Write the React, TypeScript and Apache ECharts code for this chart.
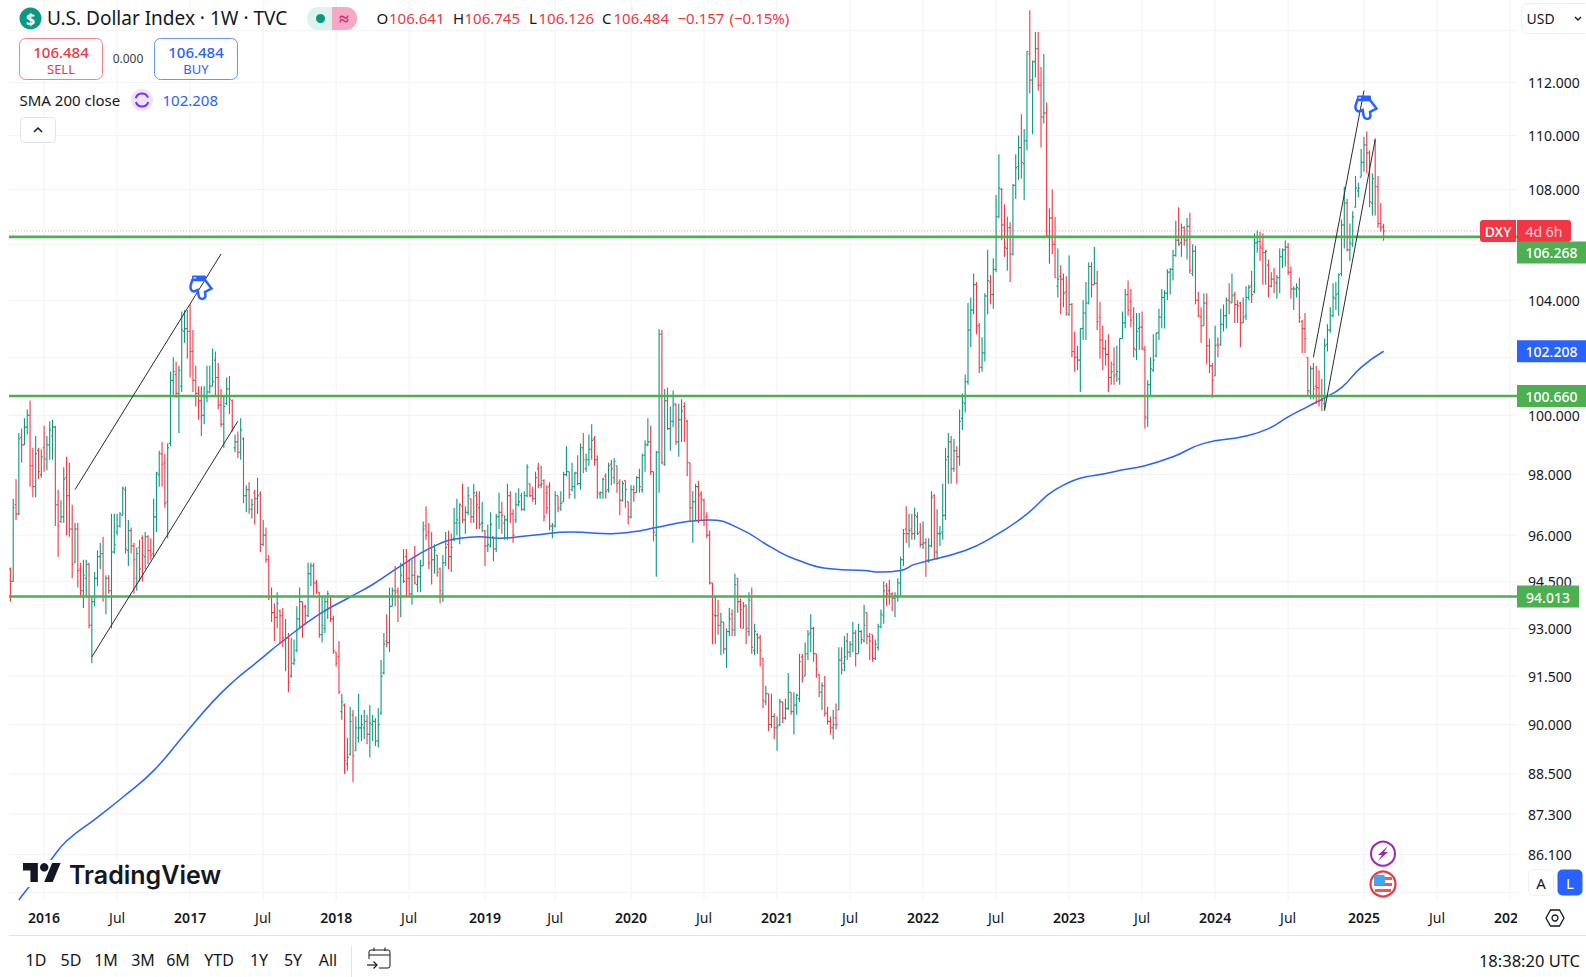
import React, { useEffect, useRef } from "react";
import * as echarts from "echarts";

// Weekly OHLC rows [open, high, low, close], one small list per calendar year.
const bars2015 = [[94.9,94.95,93.85,94.5],[94.5,97.2,94.5,96.9],[97,97.85,96.5,96.7],[96.7,99.4,96.65,99.2],[99.25,99.55,98.4,99],[99,99.9,99,99.6],[99.6,100.2,99.35,100],[100,100.5,97.6,98.3],[98.3,98.9,97.25,97.6],[97.6,99.3,97.25,98.7],[98.8,98.9,97.85,98.1],[98,98.85,97.9,98.6]];
const bars2016 = [[98.9,99.65,98.1,98.55],[98.5,99.3,98.15,99],[99,99.8,98.5,99.5],[99.3,99.85,98.5,99.6],[99.6,99.65,96.3,97],[97,97.5,95.3,96.3],[96.45,97.15,96.4,96.6],[96.6,98.25,96.4,97.85],[97.9,98.6,96,97.3],[97.3,98.4,95.95,96.2],[96.2,97,94.6,95.05],[95.1,96.4,95.1,96.2],[96.2,96.4,94.3,94.85],[94.9,95.1,94,94.2],[94.2,95.2,93.65,94.7],[94.6,95.2,94,95.05],[95.05,95.1,93,93.1],[93.1,94,91.9,93.85],[93.85,94.8,93.7,94.6],[94.6,95.5,94.35,95.3],[95.3,95.75,94.9,95.4],[95.4,95.95,93.85,94],[94,94.7,93.45,94.6],[94.6,94.7,94.1,94.2],[94.2,96.7,93,95.45],[95.45,96.7,95.4,95.7],[96.1,96.7,96,96.3],[96.3,96.75,96.25,96.7],[96.65,97.6,96.65,97.55],[97.5,97.6,95.4,95.55],[95.5,96.5,95,96.15],[96.15,96.25,95.4,95.65],[95.65,95.75,94.1,95.2],[94.6,95.6,94.2,95.4],[95.6,95.85,94.5,94.9],[95.9,96,94.5,95.35],[95.3,96.1,94.9,95.95],[95.95,96,95.05,95.5],[95.5,95.9,95.2,95.35],[95.4,97.2,95.3,96.6],[96.6,98.1,96.1,98.05],[98,98.8,97.6,98.7],[98.7,99.1,97.6,98.35],[98.4,98.7,96.9,97.05],[97.1,99.05,95.9,98.9],[99.05,101.5,98.95,101.2],[101.2,102,100.7,101.5],[101.4,101.85,100.6,100.75],[100.75,101.7,99.4,101.55],[101,103.6,100.8,102.95],[102.9,103.65,102.5,103],[103,103.65,101.95,102.9]];
const bars2017 = [[102.9,103.85,101.3,102.2],[102.2,102.95,100.8,101.2],[101.2,101.7,100.3,100.75],[100.75,101,99.85,100.5],[100.5,101,99.3,100],[100,101,99.7,100.65],[100.6,101.7,100.45,100.8],[100.8,101.7,100.75,101],[101,102.3,101,101.15],[101.9,102.2,100.65,101.3],[101.3,101.8,100.2,100.35],[100.35,100.9,99.6,99.7],[99.7,100.65,98.9,100.3],[100.4,101.3,100.35,100.9],[100.9,101.35,100.05,100.55],[100.5,100.55,99.45,99.6],[98.9,99.35,98.75,99.1],[99.1,99.45,98.55,98.75],[98.75,99.9,98.5,99.5],[99.2,99.25,97.05,97.3],[97.3,97.65,96.75,97.5],[97.5,97.75,96.7,96.85],[96.85,97.2,96.55,97],[97.4,97.5,96.35,97.2],[97.2,97.9,96.7,97.3],[97.35,97.45,95.45,95.7],[95.7,96.5,95.65,96],[96,96.25,95.1,95.2],[95.2,95.35,93.9,94],[94,94.3,93.2,93.5],[93.5,93.8,92.6,93.35],[93.35,94.15,93,93.8],[93.55,93.6,92.5,93.4],[93.4,93.65,92.4,92.7],[92.6,93.3,91.65,92.7],[92.7,92.85,91,91.3],[91.5,92.7,91.45,91.9],[91.9,92.65,91.85,92],[92.3,93.7,92.25,93.3],[93.3,94.3,93,93.85],[93.85,93.85,92.7,93.1],[93.7,93.75,93.1,93.4],[93.4,95.1,93.35,94.75],[94.75,95.1,94.35,95],[95,95.1,94,94.45],[94.45,94.55,94.1,94.2],[94.15,94.15,92.7,92.8],[92.8,94,92.55,93.1],[93,94.05,92.85,93.85],[93.85,94.2,93.3,94.1],[94,94,93.2,93.3],[93.3,93.4,92.2,92.3]];
const bars2018 = [[92.25,92.25,91.8,91.9],[92.1,92.6,90.95,91],[90.4,90.95,90.15,90.7],[90.6,90.65,88.5,88.9],[88.8,89.6,88.6,89],[89.1,90.55,89.05,90.1],[90.3,90.45,88.25,89.05],[89.2,90.25,89.2,89.9],[89.6,90.95,89.45,89.9],[89.9,90.3,89.5,90],[89.9,90.45,89.55,90.1],[90.1,90.3,89.4,89.7],[89.7,90.6,89,90.05],[90,90.3,89.5,90.1],[90.1,90.2,89.35,89.5],[89.5,90.5,89.3,90],[90.35,92,90.3,91.5],[91.6,92.85,91.55,92.5],[92.6,93.45,92.4,92.55],[92.55,94.3,92.25,93.7],[93.7,94.3,93.7,94.2],[94.2,95,93.7,94.15],[94.2,94.3,93.2,94],[94,95.1,93.35,94.7],[95,95.55,94.45,94.5],[95.3,95.55,94,94.6],[94.6,95.2,94,94.1],[94.1,95.2,93.75,94.7],[94.7,95.65,94.4,94.45],[94.4,94.7,94.15,94.65],[94.65,95.2,94.15,95],[95,96.45,95,96.2],[96.3,96.95,95.85,96],[96.1,96.4,94.9,95.1],[95.6,96.1,94.4,95.2],[95.2,95.7,94.75,95.5],[95.35,95.35,94.65,94.8],[94.9,94.95,93.8,94.2],[94.1,95.35,93.85,95.1],[95.1,96.1,95,95.6],[95.7,96.15,94.9,95.3],[95.3,96.05,94.8,95.6],[95.9,96.9,95.8,96.4],[96.4,97.2,96,96.5],[96.4,97.05,95.7,97],[96.95,97.7,96.4,96.5],[96.5,96.95,96.05,96.75],[96.75,97.6,96.65,97.3],[97.2,97.2,96.4,96.6],[96.6,97.7,96.4,97.4],[97.3,97.45,96.2,97],[96.9,97.45,96.2,96.35],[96.4,97.1,96.1,96.4]];
const bars2019 = [[96.15,96.15,95,95.65],[95.65,96.35,95.45,95.7],[95.65,96.75,95.6,96.35],[95.95,95.95,95.15,95.55],[95.55,96.7,95.45,96.6],[96.6,97.4,96.2,96.75],[96.75,97.1,96.05,96.65],[96.4,96.65,95.85,96.5],[96.5,97.7,95.85,97.3],[97.3,97.45,96.4,96.7],[96.7,96.85,95.75,96],[96.5,97.4,96.4,97],[97,97.55,96.95,97.1],[97.3,97.4,96.8,96.85],[96.85,97.45,96.8,97.3],[97.3,98.35,97.25,98.25],[97.7,97.7,97.25,97.3],[97.3,97.6,97.1,97.2],[97.2,98.1,97,97.9],[98.2,98.4,97.55,97.65],[97.65,98.3,97.55,97.7],[97.8,97.85,96.45,96.6],[97.4,97.65,96.7,96.9],[97.6,97.75,96.15,96.3],[96.3,96.4,95.9,96.3],[96.3,97.45,96.25,97.3],[97.3,97.3,96.75,96.9],[96.85,97.45,96.8,97.05],[97.1,98.1,97.1,98],[98,98.95,97.95,98.1],[98.1,98.1,97.2,97.35],[97.5,98.4,97.45,97.6],[97.6,98.1,97.2,98.05],[98.05,98.65,97.65,97.7],[97.7,99.05,97.5,98.9],[98.9,99.4,98.05,98.5],[98.2,98.7,98.1,98.5],[98.5,99.35,98.3,98.85],[98.85,99.7,98.5,99.15],[99.2,99.3,98.3,98.5],[98.5,98.65,97.2,97.4],[97.35,97.45,97.2,97.4],[97.4,97.9,97.2,97.85],[97.95,98.05,97.2,97.45],[97.5,98.4,97.4,98.3],[98.35,98.5,97.65,98.2],[97.9,98.55,97.7,98.45],[98.3,98.3,97.4,97.7],[97.75,97.85,96.65,97.15],[97.15,97.8,97.1,97.7],[97.8,97.8,96.9,97.5],[97.1,97.1,96.35,96.6]];
const bars2020 = [[96.6,97.65,96.55,97.5],[97.5,97.65,97.1,97.4],[97.4,97.95,97.4,97.9],[97.9,98.2,97.4,97.6],[97.5,98.7,97.4,98.65],[98.65,99.15,98.1,99],[99,99.9,98.95,99.1],[99.1,99.65,98,98.1],[98.1,98.1,95.8,96.1],[96,98.8,94.65,98.75],[98.75,102.98,97.4,102.8],[102.8,102.95,98.35,98.4],[98.35,100.9,98.3,100.5],[100.5,100.95,99.5,99.55],[99.55,100.3,98.8,99.8],[99.8,100.85,99.6,100.35],[100.4,100.4,99,99.1],[99.1,100.4,98.6,99.85],[99.85,100.55,99.1,100.15],[100.3,100.45,99.1,99.9],[99.8,99.85,97.95,98.4],[98.4,98.4,96.45,96.9],[96.9,97.45,95.75,97.1],[97.1,97.7,96.5,97.6],[97.6,97.8,96.4,97.3],[97.35,97.45,96.5,97.2],[97.15,97.2,96.3,96.5],[96.6,96.75,95.9,96],[96,96.15,94.4,94.45],[94.45,94.45,92.5,93.45],[93.4,94,92.5,93.4],[93.4,93.9,92.8,93.1],[93.1,93.5,92.15,93.2],[93.2,93.2,92.2,92.35],[92.35,93,91.75,92.9],[92.9,93.65,92.75,93.3],[93.45,93.6,92.75,92.95],[92.95,94.75,92.75,94.4],[94.6,94.6,93.5,93.85],[93.85,93.95,93,93.6],[93,93.85,93,93.7],[93.75,93.75,92.5,93],[92.9,94.15,92.75,93.9],[94,94.3,92.2,92.4],[92.3,93.15,92.15,92.9],[92.8,92.85,92.2,92.7],[92.7,92.8,91.8,92.3],[92.05,92.05,90.5,90.75],[90.7,91.2,90.6,90.95],[90.95,90.95,89.8,90],[90,90.95,89.9,90.25],[90.25,90.35,89.55,89.9]];
const bars2021 = [[89.9,90.25,89.2,89.95],[90,90.8,89.95,90.7],[90.7,90.7,90.05,90.2],[90.2,90.8,90.15,90.5],[90.5,91.6,90.45,91],[91,91,90.3,90.4],[90.4,91,89.7,90.6],[90.6,90.95,90.3,90.9],[90.8,92.2,90.7,91.95],[92.1,92.2,91.3,91.45],[91.5,92.55,91.5,92.2],[92.2,92.95,92,92.8],[92.85,93.45,92.25,93],[93,93.05,91.95,92.2],[92.2,92.2,91.45,91.7],[91.55,91.55,90.85,91],[91,91.3,90.45,91.2],[91.2,91.5,90.25,90.35],[90.35,90.55,90,90.1],[90.1,90.25,89.7,89.9],[89.9,90.45,89.55,90],[90.2,90.65,89.85,90],[90.45,92.4,90.45,92],[92,92.4,91.55,91.7],[91.9,92.75,91.65,92.1],[92.6,92.85,92,92.25],[92.25,92.6,92.1,92.5],[92.5,93.2,92.25,92.85],[92.85,92.95,91.8,92.2],[92.2,93.15,92.2,92.9],[92.9,92.95,92.5,92.65],[92.6,93.75,92.55,93.1],[93.5,93.5,92.5,92.75],[92.75,92.85,92,92.6],[92.8,92.8,91.95,92.05],[92.05,92.65,92,92.5],[92.4,93.15,92.3,93.05],[93.05,93.6,93,93.45],[93.4,94.5,93.15,94.2],[94.35,94.45,93.7,94.1],[94.2,94.55,93.75,94.1],[94.1,94.15,93.55,93.95],[93.95,94.15,93.35,94.05],[94,94.6,93.85,94.45],[94.45,95.3,94,95.2],[95.2,96.2,95,96.05],[96.2,96.95,95.75,96.05],[96.05,96.7,95.6,96.15],[96.2,96.7,95.85,96.05],[96.05,96.9,95.85,96.65],[96.6,96.75,96,96.05],[96.1,96.4,95.6,95.7]];
const bars2022 = [[95.7,96.45,95.55,95.75],[95.75,95.9,94.65,95.15],[95.2,95.9,95.1,95.65],[95.65,97.45,95.6,97.25],[97.3,97.35,95.2,95.45],[95.45,96.85,95.2,96.05],[96.05,96.3,95.65,96.05],[96.1,97.7,95.85,96.65],[96.65,98.9,96.5,98.5],[98.6,99.4,97.7,99.1],[99.1,99.3,97.7,98.2],[98.2,99.2,98.1,98.8],[98.8,98.95,97.7,98.6],[98.6,100.2,98.3,99.8],[99.9,100.75,99.5,100.45],[100.4,101.4,100.1,101.15],[101.15,103.9,101.05,102.95],[102.95,104.1,102.35,103.65],[103.65,104.95,103.5,104.55],[104.55,104.65,102.8,103.1],[103.1,103.2,101.45,101.65],[101.65,102.7,101.5,102.15],[102.15,104.25,101.85,104.15],[104.15,105.8,103.5,104.7],[104.65,104.9,103.85,104.2],[104.2,105.5,103.7,105.1],[105.1,107.8,105,107],[107,109.3,106.95,108.05],[108,108.05,106.15,106.7],[106.7,107.45,105.55,105.9],[105.85,107,105.05,106.6],[106.6,106.8,104.65,105.65],[105.65,108.2,105.6,108.15],[108.15,109.3,107.65,108.8],[108.85,110,108.35,109.55],[109.55,110.8,108.4,109],[108.95,110.25,107.6,109.8],[109.8,113.2,109.45,113.2],[113.1,114.8,111.6,112.1],[112.1,112.85,110.05,112.8],[112.8,113.95,112.2,113.3],[113.3,113.95,111.7,111.9],[111.9,112.6,109.55,110.7],[110.7,113.1,110.45,110.85],[110.85,111.25,106.25,106.3],[106.3,107.3,105.3,106.95],[106.95,108,105.65,106],[106,107,104.8,104.8],[104.5,105.85,104.1,104.75],[104.85,105.25,103.5,104.75],[104.75,104.95,103.75,104.25],[104.3,104.85,103.45,103.55]];
const bars2023 = [[103.5,105.6,103.45,103.85],[103.85,103.9,102,102.2],[102.2,102.9,101.5,102],[102,102.4,101.55,101.9],[101.9,103,100.8,103],[103,104,102.6,103.55],[103.55,104.65,102.6,103.9],[103.9,105.35,103.85,105.2],[105.2,105.35,104.1,104.55],[104.55,105.9,104.55,104.6],[104.6,105.05,102.95,103.25],[103.4,103.95,101.95,102.6],[102.6,103.1,101.55,102.3],[102.3,102.6,101.7,102.1],[102.1,102.8,100.8,101.3],[101.3,101.85,101.05,101.5],[101.75,102.35,101.05,101.35],[101.4,102.4,101.15,101.5],[101.25,102.65,101.05,102.65],[102.65,103.6,102.65,103.2],[103.2,104.4,103,104.2],[104.2,104.7,103.45,103.65],[103.95,104.4,103.05,103.3],[103.4,103.75,102,102.3],[102.25,103.55,101.9,102.9],[103,103.55,102.25,103.05],[103.05,103.6,102.25,102.3],[102.25,102.4,99.55,99.95],[99.9,101.2,99.6,101.05],[101.05,102,100.65,101.6],[101.55,102.8,101.5,101.9],[102.05,102.85,102,102.85],[102.85,103.7,102.6,103.4],[103.4,104.4,103,104.1],[104.1,104.35,103,104.25],[104.25,105.1,104,105],[105,105.15,104.2,105.1],[105.1,105.8,104.7,105.6],[105.6,106.85,105.55,106.15],[106.15,107.35,105.95,106],[106.05,106.75,105.55,106.6],[106.6,106.65,105.95,106.15],[106.15,106.95,105.45,106.65],[106.65,107.15,104.95,105.05],[104.95,106,104.85,105.75],[105.75,105.95,103.85,104],[104,104.3,103.4,103.45],[103.4,103.75,102.5,103.1],[103.1,104.25,103.1,103.9],[103.9,104.25,101.75,102.4],[102.4,102.65,101.45,101.7],[101.7,101.8,100.6,101.2]];
const bars2024 = [[101.35,103.1,101.35,102.4],[102.45,102.7,102,102.4],[102.45,103.7,102.4,103.15],[103.15,103.85,102.9,103.45],[103.45,104.1,103,104],[104,104.6,103.5,103.95],[103.9,104.95,103.9,104.15],[104.2,104.3,103.2,103.85],[103.85,104,103.2,103.8],[103.9,103.95,102.35,103.2],[103.2,104.1,103.2,103.4],[103.45,104.5,103.3,104.1],[104.1,104.55,104,104.45],[104.5,105.05,103.9,104.2],[104.3,106.4,104.25,106.05],[106.05,106.5,105.7,106.1],[106.1,106.45,105.4,105.9],[105.85,106.4,104.55,105.7],[105.7,105.8,104.55,105.75],[105.25,105.45,104.1,104.5],[104.5,105,104.45,104.75],[104.75,105.15,104.25,104.65],[104.6,104.9,104.05,104.8],[104.8,105.85,104.25,105.55],[105.55,105.85,105.15,105.8],[105.8,106.15,105.2,105.9],[105.9,106.05,104.9,105],[105,105.2,104.05,104.4],[104.4,104.5,103.65,104.4],[104.4,104.6,104.1,104.45],[104.4,104.8,103.2,103.4],[103.25,103.3,102.15,103],[103,103.55,102.15,102.65],[102,102,100.65,100.85],[100.8,101.7,100.55,101.6],[101.6,101.8,100.55,100.9],[101,101.7,100.4,100.95],[100.95,101.55,100.3,100.65],[100.65,101.25,100.15,100.5],[100.4,102.65,100.15,102.4],[102.45,103.15,102.2,102.95],[102.95,103.75,102.85,103.45],[103.45,104.6,103.4,104.1],[104.05,104.65,103.65,104.2],[104.25,104.95,103.45,104.9],[104.95,106.9,104.85,106.7],[106.7,108.1,105.85,107.5],[107.5,107.65,105.75,105.8],[105.8,106.75,105.4,106.05],[106,107.2,105.9,107],[107.35,108.5,107.35,108.05],[107.95,108.25,107.7,108.05],[108.45,109.5,108.45,109]];
const bars2025 = [[109,109.95,108.65,109.65],[109.65,110.15,108.6,109.35],[109.35,109.45,107.35,107.55],[107.5,108.6,107.05,108.4],[109.8,109.9,107.05,108.1],[108.1,108.5,106.6,106.75],[106.75,107.5,106.45,106.6],[106.641,106.745,106.126,106.484]];

// SMA 200 read at sampled weeks: bar number and value.
const smaWeeks = [3,7,14,20,31,40,51,62,72,79,88,97,110,121,129,139,150,160,167,174,186,200,214,221,230,241,249,260,271,280,293,304,310,317,322,340,350,360,375,393,404,414,425,440,448,455,462,468,474,481,489];
const smaValues = [84.78,85.2,85.9,86.5,87.2,87.8,88.6,89.7,90.7,91.3,91.95,92.6,93.45,94,94.4,95,95.6,95.9,95.95,95.9,96,96.1,96.05,96.1,96.25,96.45,96.5,96.2,95.6,95.2,94.9,94.85,94.8,94.85,95.05,95.5,95.95,96.55,97.65,98.1,98.3,98.6,99.05,99.3,99.55,99.95,100.3,100.6,100.95,101.65,102.208];

// 106 and 102 sit behind the price tags in the reference, so they only get a grid line.
const priceTicks = [112,110,108,104,100,98,96,94.5,93,91.5,90,88.5,87.3,86.1];
const extraGridPrices = [114,106,102,85];
const levels = [106.268,100.66,94.013];
const lastPrice = 106.484;
const trendLines = [
  [["2016-03-21",97.5],["2017-03-20",105.65]],
  [["2016-05-02",92.1],["2017-05-01",99.8]],
  [["2024-09-02",102],["2025-01-06",111.7]],
  [["2024-09-30",100.2],["2025-02-03",109.85]],
];
const timeTicks = [["2016-01-04","2016"],["2016-07-04","Jul"],["2017-01-02","2017"],["2017-07-03","Jul"],["2018-01-01","2018"],["2018-07-02","Jul"],["2019-01-07","2019"],["2019-07-01","Jul"],["2020-01-06","2020"],["2020-07-06","Jul"],["2021-01-04","2021"],["2021-07-05","Jul"],["2022-01-03","2022"],["2022-07-04","Jul"],["2023-01-02","2023"],["2023-07-03","Jul"],["2024-01-01","2024"],["2024-07-01","Jul"],["2025-01-06","2025"],["2025-07-07","Jul"],["2026-01-05","2026"]];
const rangeButtons = [["1D",36],["5D",71],["1M",106],["3M",143],["6M",178],["YTD",219],["1Y",259],["5Y",293],["All",328]];

const WEEK_COUNT = 537;
const weeks: string[] = [];
for (let i = 0; i < WEEK_COUNT; i++) weeks.push(new Date(Date.UTC(2015, 9, 12 + 7 * i)).toISOString().slice(0, 10));
const bars = [...bars2015, ...bars2016, ...bars2017, ...bars2018, ...bars2019, ...bars2020, ...bars2021, ...bars2022, ...bars2023, ...bars2024, ...bars2025];
const timeLabel = new Map(timeTicks as [string, string][]);

const UP = "#089981", DOWN = "#F23645", BLUE = "#2962FF", GREEN = "#4CAF50", INK = "#131722", GRID = "#f1f2f4";
const FONT = '"Noto Sans"';

echarts.graphic.registerShape("tvLogo", echarts.graphic.extendPath("M14 22H7V11H0V4h14v18zM28 22h-8l7.5-18h8L28 22z", {}));
echarts.graphic.registerShape("handIcon", echarts.graphic.extendPath("M2.3 5L0.5 11C0.3 14 1.5 16.5 4 16.5L7.7 15L8.5 20C9 25 14.5 25 15.5 21L15 17L21.5 13.5L15 5Z", {}));

const Z = 100;
const text = (x: number, y: number, s: string, size: number, fill = INK, align = "left", weight = "normal", family = FONT) => ({
  type: "text", x, y, z: Z, silent: true,
  style: { text: s, fill, font: `${weight} ${size}px ${family}`, align, verticalAlign: "middle" },
});
const box = (x: number, y: number, w: number, h: number, fill: string, stroke?: string, r: number | number[] = 0, z = Z) => ({
  type: "rect", z, silent: true, shape: { x, y, width: w, height: h, r },
  style: { fill, stroke: stroke || "none", lineWidth: 1 },
});
const seg = (x1: number, y1: number, x2: number, y2: number, stroke: string, lineWidth = 1, z = Z) => ({
  type: "line", z, silent: true, shape: { x1, y1, x2, y2 }, style: { stroke, lineWidth },
});
const hand = (x: number, y: number) => ([
  { type: "handIcon", x, y, z: Z - 5, silent: true, style: { fill: "none", stroke: BLUE, lineWidth: 2.5 } },
  box(x + 2, y + 0.5, 14, 5.5, BLUE, undefined, 1, Z - 5),
  box(x + 3.5, y + 2, 2.5, 1.6, "#cfdcff", undefined, 0, Z - 4),
]);

function chrome(yOf: (v: number) => number) {
  const tag = (cy: number, w: number, fill: string, s: string) => [
    box(1517, cy - 11, w, 22, fill),
    text(1517 + w / 2, cy + 0.5, s, 14, "#fff", "center", "500"),
  ];
  const price = (x: number, s: string) => text(x, 18, s, 15, DOWN);
  const flagX = 1383, flagY = 884;
  return [
    // header
    { type: "circle", z: Z, silent: true, shape: { cx: 30.5, cy: 18.5, r: 11 }, style: { fill: UP } },
    text(30.5, 18.5, "$", 16, "#fff", "center", "bold"),
    text(47, 18, "U.S. Dollar Index · 1W · TVC", 19, INK),
    box(307, 7, 25, 23, "#def2ee", undefined, [11, 0, 0, 11]),
    box(332, 7, 25, 23, "#f5a9c4", undefined, [0, 11, 11, 0]),
    { type: "circle", z: Z + 1, silent: true, shape: { cx: 320.5, cy: 18.5, r: 4.5 }, style: { fill: UP } },
    text(344, 18, "≈", 18, "#d81b60", "center", "bold"),
    text(376.5, 18, "O", 15), price(389, "106.641"),
    text(453, 18, "H", 15), price(464.5, "106.745"),
    text(529, 18, "L", 15), price(538.5, "106.126"),
    text(602, 18, "C", 15), price(613.5, "106.484"),
    price(677.5, "−0.157"), price(729.5, "(−0.15%)"),
    // sell / buy
    box(19.5, 38.5, 83, 41, "#fff", "#f7808b", 6),
    text(61, 51.5, "106.484", 15, DOWN, "center", "500"),
    text(61, 68.5, "SELL", 13, DOWN, "center"),
    text(128, 58, "0.000", 12, "#3b3f4a", "center"),
    box(154.5, 38.5, 83, 41, "#fff", "#6e92ff", 6),
    text(196, 51.5, "106.484", 15, BLUE, "center", "500"),
    text(196, 68.5, "BUY", 13, BLUE, "center"),
    // indicator row
    text(19.5, 99.5, "SMA 200 close", 15, INK),
    { type: "circle", z: Z, silent: true, shape: { cx: 142, cy: 100, r: 11 }, style: { fill: "#ece4fb" } },
    { type: "arc", z: Z + 1, silent: true, shape: { cx: 142, cy: 100, r: 6.5, startAngle: 0.3, endAngle: 2.8 }, style: { stroke: "#7b2ff2", lineWidth: 2, fill: "none" } },
    { type: "arc", z: Z + 1, silent: true, shape: { cx: 142, cy: 100, r: 6.5, startAngle: 3.4, endAngle: 5.9 }, style: { stroke: "#7b2ff2", lineWidth: 2, fill: "none" } },
    text(162.5, 99.5, "102.208", 15, BLUE),
    box(20.5, 117.5, 35, 25, "#fff", "#e0e3eb", 4),
    { type: "polyline", z: Z + 1, silent: true, shape: { points: [[34, 132], [38, 128], [42, 132]] }, style: { stroke: INK, lineWidth: 1.5, fill: "none" } },
    // USD selector
    box(1521.5, 3.5, 70, 30, "#fff", "#eef0f3", 6),
    text(1526.5, 18, "USD", 14, INK),
    { type: "polyline", z: Z + 1, silent: true, shape: { points: [[1575, 17], [1578, 20], [1581, 17]] }, style: { stroke: INK, lineWidth: 1.4, fill: "none" } },
    // price tags
    box(1480, 220, 36, 22, DOWN, undefined, [3, 0, 0, 3]),
    box(1517, 220, 54, 22, DOWN, undefined, [0, 3, 3, 0]),
    text(1498, 231.5, "DXY", 14, "#fff", "center", "500"),
    text(1544, 231.5, "4d 6h", 14, "#fbd3d7", "center"),
    ...tag(yOf(levels[0]) + 15.6, 69, GREEN, "106.268"),
    ...tag(yOf(102.208), 69, BLUE, "102.208"),
    ...tag(yOf(levels[1]), 69, GREEN, "100.660"),
    ...tag(yOf(levels[2]), 62, GREEN, "94.013"),
    // hand cursors
    ...hand(190, 275),
    ...hand(1355, 95),
    // watermark
    box(22, 860, 200, 27, "#fff", undefined, 0, Z - 10),
    { type: "tvLogo", x: 23, y: 858.8, scaleX: 1.06, scaleY: 1.06, z: Z, silent: true, style: { fill: INK } },
    { type: "circle", z: Z, silent: true, shape: { cx: 44.2, cy: 867.3, r: 4.2 }, style: { fill: INK } },
    text(69, 875, "TradingView", 25, INK, "left", "600", "Inter"),
    // event badges
    { type: "circle", z: Z, silent: true, shape: { cx: 1383, cy: 853.7, r: 12 }, style: { fill: "#fff", stroke: "#9c27b0", lineWidth: 2 } },
    { type: "polygon", z: Z + 1, silent: true, shape: { points: [[1388, 846], [1378, 855], [1382, 855], [1378, 861], [1388, 852], [1384, 852]] }, style: { fill: "#9c27b0" } },
    { type: "circle", z: Z, silent: true, shape: { cx: flagX, cy: flagY, r: 12.5 }, style: { fill: "#fff", stroke: DOWN, lineWidth: 2.2 } },
    box(1374, 877, 18, 3, "#f7525f", undefined, 0, Z + 1),
    box(1374, 883, 18, 3, "#f7525f", undefined, 0, Z + 1),
    box(1375, 889, 16, 3, "#f7525f", undefined, 0, Z + 1),
    box(1374, 875, 11, 10, "#42a5f5", undefined, 2, Z + 2),
    // right-hand buttons and axis corner
    box(1517, 902, 69, 32, "#fff", undefined, 0, Z - 20),
    box(1528.5, 869.5, 25, 26, "#fff", "#eef0f3", 5),
    text(1541, 883, "A", 15, INK, "center"),
    box(1557.5, 869.5, 25, 26, BLUE, undefined, 5),
    text(1570, 883, "L", 15, "#fff", "center"),
    { type: "polygon", z: Z, silent: true, shape: { points: [[1546, 918], [1550.5, 910], [1559.5, 910], [1564, 918], [1559.5, 926], [1550.5, 926]] }, style: { fill: "none", stroke: INK, lineWidth: 1.3 } },
    { type: "circle", z: Z, silent: true, shape: { cx: 1555, cy: 918, r: 3 }, style: { fill: "none", stroke: INK, lineWidth: 1.3 } },
    // bottom bar
    seg(9, 935.5, 1586, 935.5, "#e0e3eb"),
    seg(351.5, 946, 351.5, 977, "#e0e3eb"),
    ...rangeButtons.map(([s, x]) => text(x as number, 960, s as string, 16, INK, "center")),
    box(369, 950, 21, 18, "none", INK, 2),
    seg(369, 955, 390, 955, INK),
    seg(374, 947.5, 374, 951, INK),
    seg(385, 947.5, 385, 951, INK),
    box(366, 959, 13, 12, "#fff", undefined, 0, Z + 1),
    { type: "polyline", z: Z + 2, silent: true, shape: { points: [[367, 965], [377, 965]] }, style: { stroke: INK, lineWidth: 1.2, fill: "none" } },
    { type: "polyline", z: Z + 2, silent: true, shape: { points: [[373.5, 961.5], [377, 965], [373.5, 968.5]] }, style: { stroke: INK, lineWidth: 1.2, fill: "none" } },
    text(1580, 960, "18:38:20 UTC", 16.5, INK, "right"),
  ];
}

export default function App() {
  const ref = useRef<HTMLDivElement>(null);
  useEffect(() => {
    document.body.style.margin = "0";
    const chart = echarts.init(ref.current!, undefined, { renderer: "svg" });
    const hRule = (color: string, width: number, dash?: number[]) => (params: any, api: any) => {
      const cs = params.coordSys;
      const y = api.coord([0, api.value(1)])[1];
      return { type: "line", shape: { x1: cs.x, y1: y, x2: cs.x + cs.width, y2: y }, style: { stroke: color, lineWidth: width, lineDash: dash } };
    };
    chart.setOption({
      animation: false,
      backgroundColor: "#fff",
      textStyle: { fontFamily: FONT },
      grid: { left: 9, top: 0, width: 1508, height: 900, containLabel: false },
      xAxis: {
        type: "category", data: weeks, boundaryGap: true,
        axisLine: { show: false }, axisTick: { show: false }, splitLine: { show: false },
        axisLabel: {
          show: true, margin: 10, interval: (_: number, v: string) => timeLabel.has(v),
          formatter: (v: string) => { const s = timeLabel.get(v) || ""; return s === "Jul" ? `{m|${s}}` : `{y|${s}}`; },
          rich: {
            y: { fontFamily: FONT, fontSize: 14, fontWeight: 600, color: INK },
            m: { fontFamily: FONT, fontSize: 14, color: INK },
          },
        },
      },
      yAxis: {
        type: "log", position: "right", min: 84.78, max: 115.2, logBase: 10, z: 5,
        axisLine: { show: false }, axisTick: { show: false }, splitLine: { show: false }, minorSplitLine: { show: false }, minorTick: { show: false },
        axisLabel: {
          show: true, margin: 11, align: "left", color: INK, fontFamily: FONT, fontSize: 14,
          customValues: priceTicks, formatter: (v: number) => Number(v).toFixed(3),
        },
      },
      series: [
        {
          type: "custom", name: "price grid", z: 1, silent: true, clip: false,
          data: [...priceTicks, ...extraGridPrices].map((v) => [0, v]), encode: { x: 0, y: 1 },
          renderItem: hRule(GRID, 1),
        },
        {
          type: "custom", name: "time grid", z: 1, silent: true, clip: false,
          data: timeTicks.map(([d]) => [d, 100]), encode: { x: 0, y: 1 },
          renderItem: (params: any, api: any) => {
            const cs = params.coordSys;
            const x = api.coord([api.value(0), 100])[0];
            return { type: "line", shape: { x1: x, y1: cs.y, x2: x, y2: cs.y + cs.height }, style: { stroke: GRID, lineWidth: 1 } };
          },
        },
        {
          type: "custom", name: "last price", z: 2, silent: true, clip: false,
          data: [[0, lastPrice]], encode: { x: 0, y: 1 },
          renderItem: hRule("#f7a1a9", 1, [1, 2]),
        },
        {
          type: "line", name: "SMA 200", z: 3, silent: true, symbol: "none", clip: true, smooth: 0.5,
          data: smaWeeks.map((w, i) => [w, smaValues[i]]),
          lineStyle: { color: BLUE, width: 1.5 },
        },
        {
          type: "custom", name: "DXY", z: 4, silent: true, clip: true,
          data: bars.map((b, i) => [i, ...b]), encode: { x: 0, y: [1, 2, 3, 4] },
          renderItem: (_: any, api: any) => {
            const i = api.value(0), o = api.value(1), h = api.value(2), l = api.value(3), c = api.value(4);
            const x = api.coord([i, h])[0];
            const yo = api.coord([i, o])[1], yh = api.coord([i, h])[1], yl = api.coord([i, l])[1], yc = api.coord([i, c])[1];
            const style = { stroke: c >= o ? UP : DOWN, lineWidth: 1.1 };
            return {
              type: "group",
              children: [
                { type: "line", shape: { x1: x, y1: yh, x2: x, y2: yl }, style },
                { type: "line", shape: { x1: x - 1.4, y1: yo, x2: x, y2: yo }, style },
                { type: "line", shape: { x1: x, y1: yc, x2: x + 1.4, y2: yc }, style },
              ],
            };
          },
        },
        {
          type: "custom", name: "levels", z: 6, silent: true, clip: false,
          data: levels.map((v) => [0, v]), encode: { x: 0, y: 1 },
          renderItem: hRule(GREEN, 2.6),
        },
        ...trendLines.map((pts) => ({
          type: "line", name: "trend", z: 7, silent: true, symbol: "none", clip: false,
          data: pts, lineStyle: { color: "#2b2b2b", width: 1 },
        })),
      ],
    });
    const yOf = (v: number) => chart.convertToPixel({ yAxisIndex: 0 }, v) as number;
    chart.setOption({ graphic: { elements: chrome(yOf) } });
    return () => chart.dispose();
  }, []);
  return <div ref={ref} style={{ position: "fixed", left: 0, top: 0, width: 1586, height: 977 }} />;
}
